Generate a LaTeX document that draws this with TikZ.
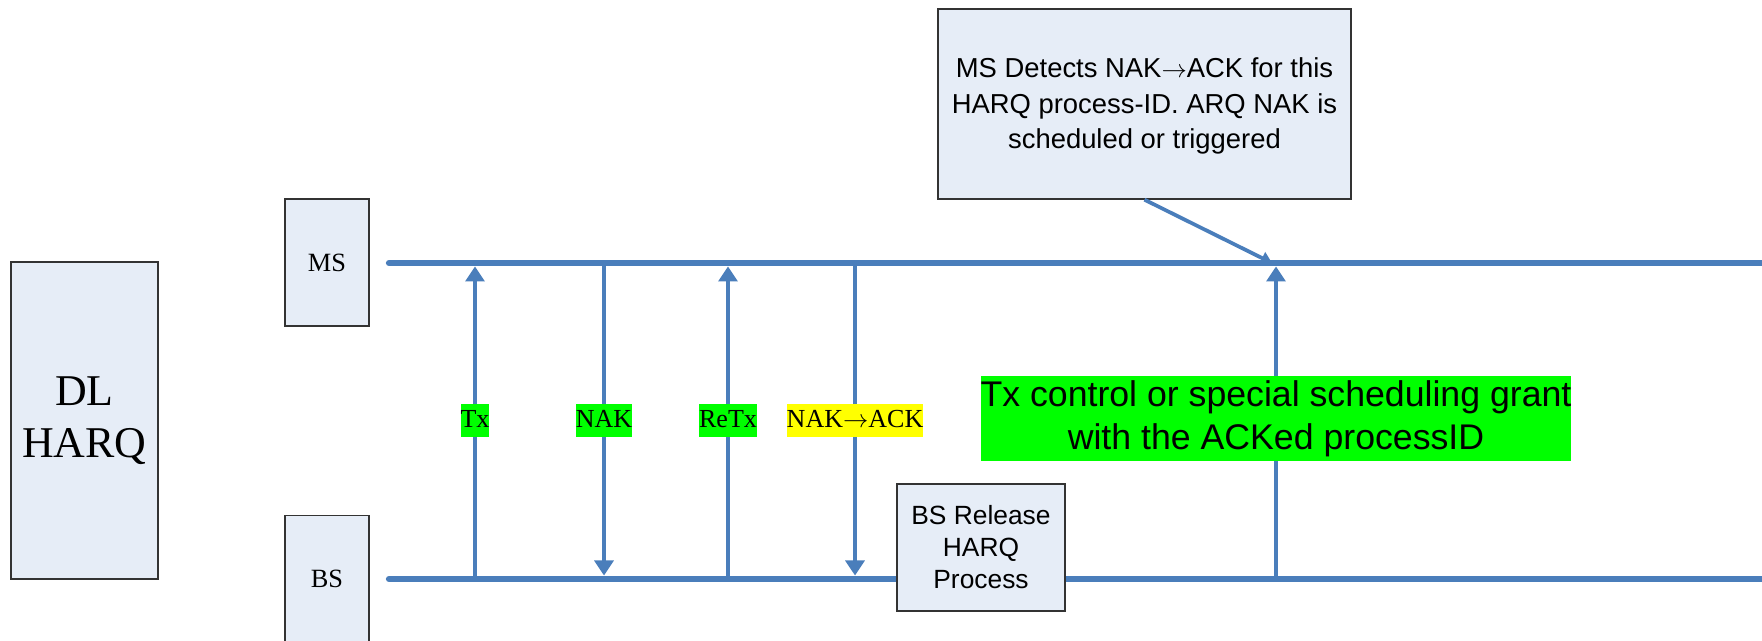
\documentclass[tikz,border=0pt]{standalone}
\usepackage{fontspec}
\setmainfont{Liberation Serif}
\newfontfamily\arialfont{Liberation Sans}
\usetikzlibrary{arrows.meta}
\definecolor{lineblue}{RGB}{74,126,187}
\definecolor{boxfill}{RGB}{230,237,247}
\definecolor{taggreen}{RGB}{0,255,0}
\definecolor{tagyellow}{RGB}{255,255,0}
\tikzset{
	entitybox/.style={draw=black!80, line width=0.8pt, fill=boxfill, inner sep=0pt, align=center},
	timeline/.style={draw=lineblue, line width=0.125cm, line cap=round},
	msg/.style={draw=lineblue, line width=0.065cm, -{Triangle[width=0.38cm,length=0.3cm]}},
	note/.style={draw=lineblue, line width=0.075cm, -{Triangle[width=0.26cm,length=0.22cm]}},
	tag/.style={fill=taggreen, inner sep=0pt, text height=0.46cm, text depth=0.2cm, font=\fontsize{14.8}{17}\selectfont}
}
\begin{document}
\begin{tikzpicture}
	\useasboundingbox (0,0) rectangle (35.24,12.82);
	\node [entitybox, minimum width=2.94cm, minimum height=6.34cm, font=\fontsize{25}{29.6}\selectfont] (harq) at (1.69,4.41) {DL\\HARQ};
	\node [entitybox, minimum width=1.68cm, minimum height=2.54cm, font=\fontsize{15}{18}\selectfont] (ms) at (6.54,7.57) {MS};
	\node [entitybox, minimum width=1.68cm, minimum height=2.54cm, font=\fontsize{15}{18}\selectfont] (bs) at (6.54,1.24) {BS};
	\coordinate (msl) at (7.78,7.56);
	\coordinate (msr) at (35.5,7.56);
	\coordinate (bsl) at (7.78,1.24);
	\coordinate (bsr) at (35.5,1.24);
	\draw [timeline] (msl) -- (msr);
	\draw [timeline] (bsl) -- (bsr);
	\draw [msg, shorten >=0.07cm] (9.50,0 |- bsl) -- node [tag] (tx) {Tx} (9.50,0 |- msl);
	\draw [msg, shorten >=0.07cm] (12.08,0 |- msl) -- node [tag] (nak) {NAK} (12.08,0 |- bsl);
	\draw [msg, shorten >=0.07cm] (14.56,0 |- bsl) -- node [tag] (retx) {ReTx} (14.56,0 |- msl);
	\draw [msg, shorten >=0.07cm] (17.10,0 |- msl) -- node [tag, fill=tagyellow] (nakack) {NAK\(\rightarrow\)ACK} (17.10,0 |- bsl);
	\draw [msg, shorten >=0.07cm] (25.52,0 |- bsl) -- node [pos=0.507, fill=taggreen, inner xsep=0pt, inner ysep=0pt, minimum height=1.7cm, align=center, font=\arialfont\fontsize{20.3}{24}\selectfont] (grant) {Tx control or special scheduling grant\\with the ACKed processID} (25.52,0 |- msl);
	\node [entitybox, minimum width=3.36cm, minimum height=2.54cm, font=\arialfont\fontsize{15}{18.2}\selectfont] (release) at (19.62,1.87) {BS Release\\HARQ\\Process};
	\node [entitybox, minimum width=8.26cm, minimum height=3.8cm] (msnote) at (22.89,10.74) {};
	\node [inner sep=0pt, align=center, font=\arialfont\fontsize{15.6}{20}\selectfont] (notetext) at ([yshift=-0.04cm]msnote.center) {MS Detects NAK\(\rightarrow\)ACK for this\\HARQ process-ID. ARQ NAK is\\scheduled or triggered};
	\draw [note] (msnote.south) -- (25.44,0 |- msl);
\end{tikzpicture}
\end{document}
